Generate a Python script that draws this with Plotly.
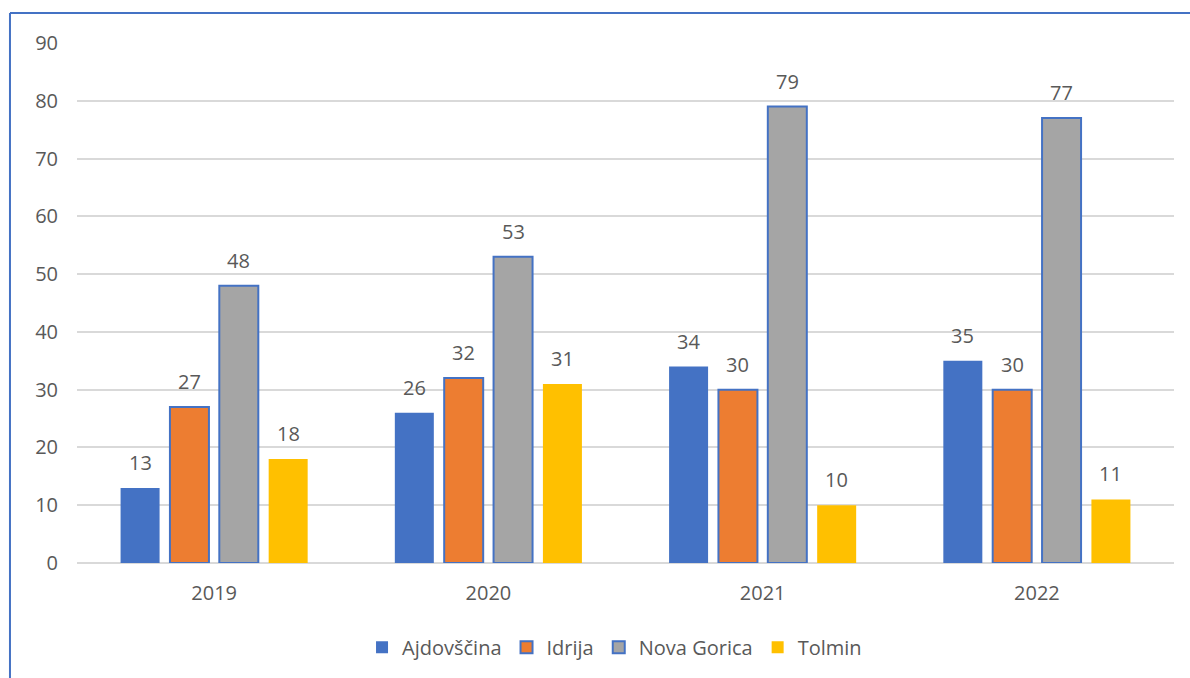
import plotly.graph_objects as go

years = ["2019", "2020", "2021", "2022"]
ajdovscina = [13, 26, 34, 35]
idrija = [27, 32, 30, 30]
nova_gorica = [48, 53, 79, 77]
tolmin = [18, 31, 10, 11]

series = [
    ("Ajdovščina", ajdovscina, "#4472C4", 0),
    ("Idrija", idrija, "#ED7D31", 2),
    ("Nova Gorica", nova_gorica, "#A5A5A5", 2),
    ("Tolmin", tolmin, "#FFC000", 0),
]

BARGAP = 0.28
BARGROUPGAP = 0.21
FONT = "Open Sans, Noto Sans, sans-serif"
TXT = "#595959"

fig = go.Figure()
annotations = []
slot = (1 - BARGAP) / len(series)
for k, (name, vals, col, lw) in enumerate(series):
    fig.add_trace(go.Bar(
        name=name, x=years, y=vals,
        marker=dict(color=col, line=dict(color="#4472C4", width=lw)),
    ))
    for i, v in enumerate(vals):
        annotations.append(dict(
            x=i + (k - (len(series) - 1) / 2) * slot, y=v, xref="x", yref="y",
            text=str(v), showarrow=False, yanchor="bottom", yshift=10,
            font=dict(family=FONT, size=20, color=TXT),
        ))

fig.update_layout(
    width=1190, height=678,
    margin=dict(l=77, r=16, t=43, b=114),
    paper_bgcolor="white", plot_bgcolor="white",
    barmode="group", bargap=BARGAP, bargroupgap=BARGROUPGAP,
    font=dict(family=FONT, size=20, color=TXT),
    legend=dict(orientation="h", x=0.49, xanchor="center", y=-0.16, yanchor="middle",
                font=dict(family=FONT, size=20, color=TXT), traceorder="normal",
                itemwidth=30),
    showlegend=True,
    annotations=annotations,
    shapes=[
        dict(type="line", xref="paper", yref="paper", x0=-0.0611, x1=1.1, y0=1.0576, y1=1.0576,
             line=dict(color="#4472C4", width=2)),
        dict(type="line", xref="paper", yref="paper", x0=-0.0611, x1=-0.0611, y0=1.0576, y1=-0.3,
             line=dict(color="#4472C4", width=2)),
    ],
)
fig.update_yaxes(range=[0, 90], dtick=10, showgrid=True, gridcolor="#D9D9D9", gridwidth=1.5,
                 zeroline=True, zerolinecolor="#D9D9D9", zerolinewidth=1.5,
                 showline=False, ticks="", ticklabelstandoff=18,
                 tickfont=dict(family=FONT, size=20, color=TXT))
fig.update_xaxes(showgrid=False, showline=False, ticks="", ticklabelstandoff=16,
                 tickfont=dict(family=FONT, size=20, color=TXT))

fig.write_html("out.html")
